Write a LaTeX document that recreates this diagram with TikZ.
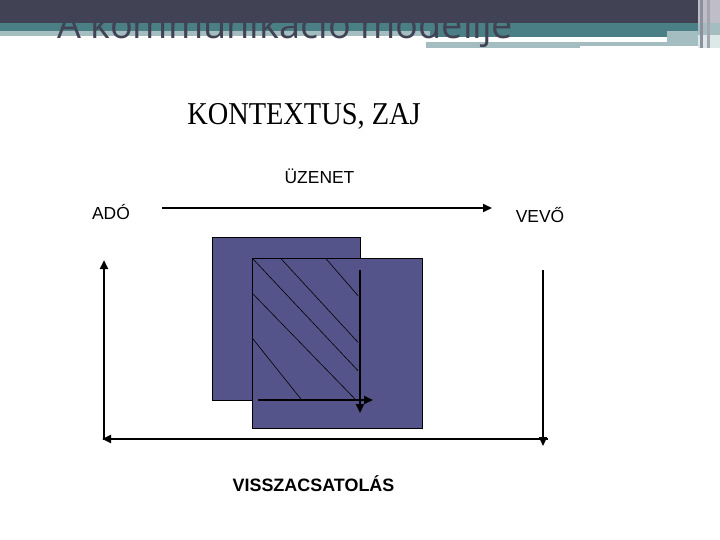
\documentclass[tikz,border=0pt]{standalone}
\usepackage{fontspec}
\setmainfont{Liberation Serif}
\newfontfamily\arialfont{Liberation Sans}
\newfontfamily\titlefont{Open Sans}
\usetikzlibrary{arrows.meta}
\definecolor{hdrdark}{HTML}{424255}
\definecolor{hdrteal}{HTML}{4A7F85}
\definecolor{hdrlight}{HTML}{A4BDC0}
\definecolor{hdrpale}{HTML}{DDE8E9}
\definecolor{hdrlav}{HTML}{BFBEC8}
\definecolor{hdrgrey}{HTML}{8E8F9C}
\definecolor{boxfill}{HTML}{54548A}
\tikzset{
  lbl/.style={font=\arialfont\fontsize{17.5}{20}\selectfont, anchor=base, inner sep=0pt},
  sq/.style={draw=black, line width=0.8bp, fill=boxfill},
  hatch/.style={draw=black, line width=0.6bp},
  arr/.style={-{Triangle[length=9bp,width=8bp]}},
}
\begin{document}
\begin{tikzpicture}[x=1bp,y=-1bp]
\useasboundingbox (0,0) rectangle (720,540);
% header
\fill[hdrdark] (0,0) rectangle (698,23);
\fill[hdrteal] (0,23) rectangle (698,31);
\fill[hdrlight] (0,31) rectangle (430,36);
\fill[hdrteal] (430,31) rectangle (667,37.5);
\fill[hdrlight] (426,42) rectangle (580,48);
\fill[hdrlight] (580,42) rectangle (707,46);
\fill[hdrlight] (667,31) rectangle (707,42);
\fill[hdrlav] (698,0) rectangle (720,23);
\fill[hdrlight] (698,23) rectangle (720,35);
\fill[hdrpale] (698,35) rectangle (720,48);
\fill[hdrgrey] (700,0) rectangle (702.5,48);
\fill[hdrgrey!80] (707,0) rectangle (709.5,48);
\node[anchor=base west, inner sep=0pt, text=hdrdark, font=\titlefont\fontsize{38}{44}\selectfont] (title) at (57,39) {A kommunikáció modellje};
% texts
\node[anchor=base, inner sep=0pt, font=\fontsize{28.5}{32}\selectfont] (ctx) at (304,125) {\scalebox{1}[1.12]{KONTEXTUS, ZAJ}};
\node[lbl] (msg) at (319.5,184) {ÜZENET};
\node[lbl] (sender) at (111,220) {ADÓ};
\node[lbl] (receiver) at (540,223) {VEVŐ};
\node[lbl, font=\arialfont\bfseries\fontsize{18}{20}\selectfont] (fb) at (313.5,491) {VISSZACSATOLÁS};
% message arrow
\coordinate (m1) at (162,208);
\coordinate (m2) at (492,208);
\draw[arr, line width=1.8bp] (m1) -- (m2);
% squares
\draw[sq] (212,237) rectangle (360,400);
\draw[sq] (252,258) rectangle (422,428);
% hatch
\draw[hatch] (326.3,259) -- (358,295.7);
\draw[hatch] (281.3,259) -- (358,342.3);
\draw[hatch] (253,259) -- (358,370.7);
\draw[hatch] (253,294) -- (356,400);
\draw[hatch] (253,339) -- (301.3,399.5);
% inner arrows
\coordinate (v1) at (360,270);
\coordinate (v2) at (360,413);
\coordinate (h1) at (258,400);
\coordinate (h2) at (373,400);
\draw[arr, line width=2bp] (v1) -- (v2);
\draw[arr, line width=2bp] (h1) -- (h2);
% feedback loop
\coordinate (r1) at (543,270);
\coordinate (r2) at (543,446);
\coordinate (b1) at (548,439);
\coordinate (b2) at (102,439);
\coordinate (l1) at (104,440);
\coordinate (l2) at (104,260);
\draw[arr, line width=1.5bp] (r1) -- (r2);
\draw[arr, line width=2.5bp] (b1) -- (b2);
\draw[arr, line width=2.5bp] (l1) -- (l2);
\end{tikzpicture}
\end{document}
